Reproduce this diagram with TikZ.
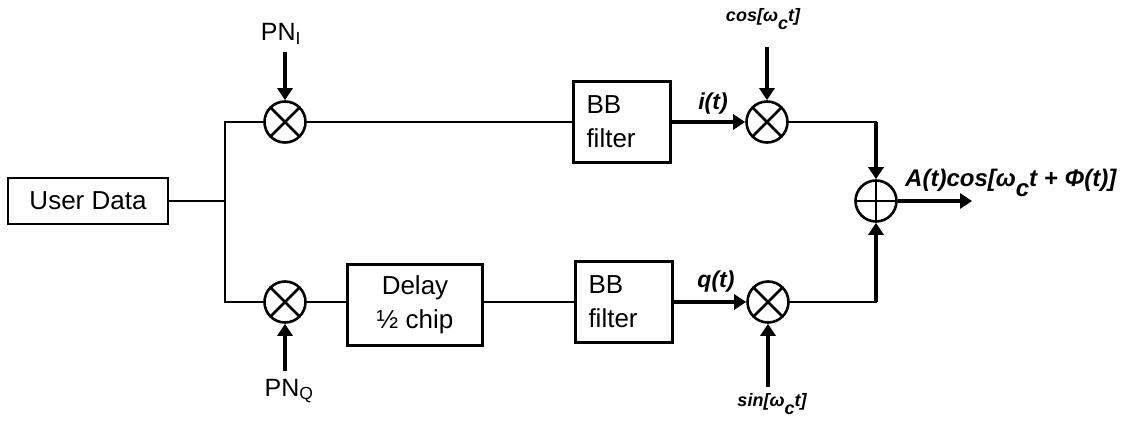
\documentclass[tikz,border=0pt]{standalone}
\usepackage{fontspec}
\setmainfont{Liberation Sans}
\usetikzlibrary{arrows.meta}
\newcommand\lowc{\raisebox{-0.42em}{c}}
\begin{document}
\begin{tikzpicture}[x=1pt,y=-1pt,
  ln/.style={line width=2.6pt,line cap=rect},
  arr/.style={line width=4pt,-{Triangle[length=12pt,width=15pt]}},
  blk/.style={draw,line width=2.6pt,inner sep=0pt,
    font=\fontsize{26}{34}\selectfont},
  mix/.style={circle,draw,line width=2.6pt,minimum size=41pt,inner sep=0pt,
    path picture={\draw[line width=2.6pt]
      (path picture bounding box.north west)--(path picture bounding box.south east)
      (path picture bounding box.north east)--(path picture bounding box.south west);}},
  addr/.style={circle,draw,line width=2.6pt,minimum size=41pt,inner sep=0pt,
    path picture={\draw[line width=2.6pt]
      (path picture bounding box.north)--(path picture bounding box.south)
      (path picture bounding box.west)--(path picture bounding box.east);}},
  pn/.style={inner sep=1pt,font=\fontsize{25}{27}\selectfont},
  sig/.style={inner sep=1pt,font=\fontsize{23}{25}\selectfont\bfseries\itshape},
  car/.style={inner sep=1pt,font=\fontsize{18}{20}\selectfont\bfseries\itshape},
  outlbl/.style={inner sep=1pt,font=\fontsize{24}{26}\selectfont\bfseries\itshape}
]
\useasboundingbox (0,0) rectangle (1127,423);

% blocks
\node[blk,minimum width=160pt,minimum height=46pt] (ud) at (88,201) {User Data};
\node[blk,minimum width=97pt,minimum height=81pt,align=left,text width=71pt] (bb1) at (622,122) {BB\\filter};
\node[blk,minimum width=97pt,minimum height=81pt,align=left,text width=71pt] (bb2) at (624,302) {BB\\filter};
\node[blk,minimum width=135pt,minimum height=81pt,align=center] (dly) at (415,305) {Delay\\½ chip};

% mixers and adder
\node[mix] (m1) at (285,122) {};
\node[mix] (m3) at (285,302) {};
\node[mix] (m2) at (767,122) {};
\node[mix] (m4) at (768,302) {};
\node[addr] (add) at (876,201) {};

% junctions and free ends
\coordinate (jm) at (225,201);
\coordinate (jt) at (225,122);
\coordinate (jb) at (225,302);
\coordinate (ct) at (876,122);
\coordinate (cb) at (876,302);
\coordinate (out) at (972,201);
\coordinate (pnia) at (285,52);
\coordinate (pnqa) at (285,371);
\coordinate (cosa) at (767,47);
\coordinate (sina) at (768,387);

% labels
\node[pn] (pni) at (281,34) {PN\textsubscript{I}};
\node[pn] (pnq) at (289,391) {PN\textsubscript{Q}};
\node[car] (cosl) at (763,19) {cos[ω\lowc t]};
\node[car] (sinl) at (772,404) {sin[ω\lowc t]};
\node[sig] (il) at (713,104) {i(t)};
\node[sig] (ql) at (716,282) {q(t)};
\node[outlbl,anchor=west] (ol) at (904,183) {A(t)cos[ω\lowc t + Φ(t)]};

% connectors
\draw[ln] (ud.east) -- (jm);
\draw[ln] (jt) -- (jb);
\draw[ln] (jt) -- (m1);
\draw[ln] (jb) -- (m3);
\draw[ln] (m1) -- (bb1);
\draw[ln] (m3) -- (dly.west |- m3);
\draw[ln] (dly.east |- m3) -- (bb2.west |- m3);
\draw[arr] (bb1.east |- m2) -- (m2);
\draw[arr] (bb2.east |- m4) -- (m4);
\draw[arr] (pnia) -- (m1);
\draw[arr] (pnqa) -- (m3);
\draw[arr] (cosa) -- (m2);
\draw[arr] (sina) -- (m4);
\draw[ln] (m2) -- (ct);
\draw[ln] (m4) -- (cb);
\draw[arr] (ct) -- (add);
\draw[arr] (cb) -- (add);
\draw[arr] (add) -- (out);
\end{tikzpicture}
\end{document}
